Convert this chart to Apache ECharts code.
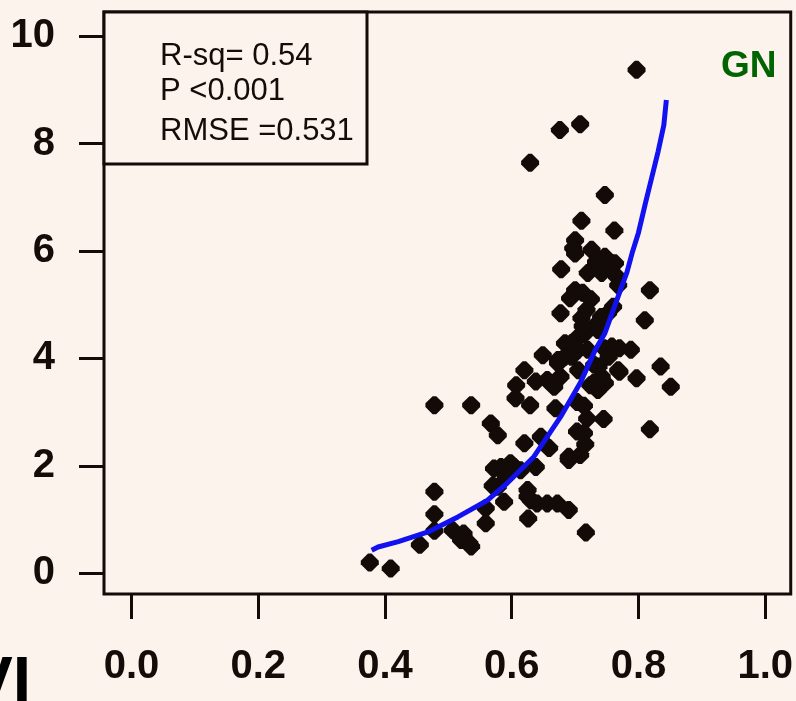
<!DOCTYPE html>
<html>
<head>
<meta charset="utf-8">
<script src="https://cdn.jsdelivr.net/npm/echarts@6/dist/echarts.min.js"></script>
<style>
html,body{margin:0;padding:0;background:#fcf3ed;}
#c{width:796px;height:701px;}
</style>
</head>
<body>
<div id="c"></div>
<script>
// ---- Data ----
const xTicks = [0, 0.2, 0.4, 0.6, 0.8, 1.0];
const yTicks = [0, 2, 4, 6, 8, 10];

const pointX = [
  0.797,0.676,0.708,0.629,0.747,0.710,0.762,0.700,0.697,0.726,0.747,0.763,0.720,0.742,0.766,0.768,
  0.678,0.818,0.700,0.692,0.712,0.677,0.810,0.718,0.710,0.736,0.760,0.752,0.736,0.741,0.714,0.705,
  0.684,0.694,0.673,0.684,0.720,0.705,0.649,0.620,0.607,0.638,0.656,0.677,0.667,0.729,0.742,0.768,
  0.797,0.835,0.851,0.788,0.770,0.758,0.746,0.730,0.737,0.753,0.747,0.724,0.736,0.705,0.673,0.606,
  0.629,0.478,0.536,0.669,0.703,0.714,0.719,0.745,0.818,0.567,0.578,0.703,0.714,0.716,0.690,0.708,
  0.690,0.620,0.646,0.659,0.638,0.572,0.583,0.598,0.604,0.614,0.591,0.578,0.570,0.588,0.625,0.625,
  0.630,0.640,0.656,0.672,0.690,0.626,0.559,0.559,0.478,0.478,0.478,0.507,0.520,0.524,0.533,0.536,
  0.455,0.717,0.376,0.409,0.770,0.694,0.700,0.733,0.756,0.725,0.712
];
const pointY = [
  9.37,8.25,8.36,7.64,7.04,6.56,6.38,6.20,6.05,6.02,5.89,5.77,5.59,5.59,5.52,5.36,
  5.66,5.27,5.27,5.12,5.22,4.84,4.71,4.90,4.75,4.66,4.96,4.84,4.53,4.77,4.45,4.40,
  4.28,4.28,3.97,4.03,4.16,4.16,4.06,3.78,3.50,3.57,3.60,3.66,3.47,3.54,3.66,3.78,
  3.63,3.85,3.47,4.16,4.19,4.22,4.19,3.88,3.85,4.03,3.54,3.50,3.41,3.78,3.91,3.26,
  3.13,3.13,3.13,3.07,3.19,3.12,2.88,2.87,2.68,2.79,2.57,2.64,2.61,2.40,2.17,2.20,
  2.11,2.42,2.54,2.33,1.98,1.95,1.98,2.05,1.98,1.92,1.80,1.61,1.63,1.33,1.55,1.43,
  1.36,1.30,1.30,1.30,1.18,1.02,1.21,0.93,1.52,1.10,0.79,0.80,0.62,0.74,0.56,0.50,
  0.53,0.76,0.20,0.09,3.75,4.03,5.95,5.80,5.70,5.10,4.60
];

const curveX = [0.379,0.389,0.421,0.468,0.515,0.562,0.593,0.635,0.677,0.708,0.732,0.747,0.767,0.782,0.790,0.800,0.811,0.820,0.831,0.840,0.844];
const curveY = [0.43,0.49,0.59,0.77,1.05,1.36,1.68,2.17,2.91,3.54,4.16,4.47,5.12,5.61,5.96,6.34,6.89,7.32,7.85,8.34,8.81];

const statLines = ['R-sq= 0.54', 'P <0.001', 'RMSE =0.531'];
const panelLabel = 'GN';
const axisTitle = 'NDVI';

// ---- Build chart ----
const ink = '#130b07';
const bg = '#fcf3ed';
const font = "'Liberation Sans', Arial, sans-serif";

const scatterData = pointX.map((x, i) => [x, pointY[i]]);
const curveData = curveX.map((x, i) => [x, curveY[i]]);

const chart = echarts.init(document.getElementById('c'), null, {renderer: 'canvas'});

const statText = statLines.map((t, i) => ({
  type: 'text',
  left: 160,
  top: [41, 76, 116][i],
  z: 100,
  style: {text: t, fontSize: 31, fontFamily: font, fill: '#140c08'}
}));

chart.setOption({
  backgroundColor: bg,
  animation: false,
  grid: {
    left: 104, top: 12, width: 691, height: 582,
    show: true, borderColor: ink, borderWidth: 3, backgroundColor: bg
  },
  xAxis: {
    type: 'value',
    min: -0.04344, max: 1.0403,
    axisLine: {show: false, onZero: false},
    splitLine: {show: false},
    axisTick: {show: true, inside: false, length: 25, lineStyle: {width: 3, color: ink}, customValues: xTicks},
    axisLabel: {
      customValues: xTicks,
      formatter: v => v.toFixed(1),
      margin: 53, fontSize: 40, fontWeight: 'bold', fontFamily: font, color: '#140c08'
    }
  },
  yAxis: {
    type: 'value',
    min: -0.385, max: 10.447,
    axisLine: {show: false, onZero: false},
    splitLine: {show: false},
    axisTick: {show: true, inside: false, length: 25, lineStyle: {width: 3, color: ink}, customValues: yTicks},
    axisLabel: {
      customValues: yTicks,
      formatter: v => String(Math.round(v)),
      margin: 49, fontSize: 40, fontWeight: 'bold', fontFamily: font, color: '#140c08'
    }
  },
  series: [
    {
      type: 'scatter',
      data: scatterData,
      symbol: 'path://M-0.2,-1L0.2,-1L1,-0.2L1,0.2L0.2,1L-0.2,1L-1,0.2L-1,-0.2Z',
      symbolSize: 18,
      itemStyle: {color: ink, opacity: 1},
      z: 2
    },
    {
      type: 'line',
      data: curveData,
      showSymbol: false,
      symbol: 'none',
      lineStyle: {color: '#1212f0', width: 5},
      z: 3
    }
  ],
  graphic: [
    {
      type: 'rect',
      shape: {x: 104, y: 12, width: 263, height: 152},
      style: {fill: bg, stroke: ink, lineWidth: 3},
      z: 99
    },
    ...statText,
    {
      type: 'text',
      left: 721, top: 48, z: 100,
      style: {text: panelLabel, fontSize: 37, fontWeight: 'bold', fontFamily: font, fill: '#006400'}
    },
    {
      type: 'text',
      right: 765, top: 652, z: 100,
      style: {text: axisTitle, fontSize: 66, fontWeight: 'bold', fontFamily: font, fill: '#000'}
    }
  ]
});
</script>
</body>
</html>
